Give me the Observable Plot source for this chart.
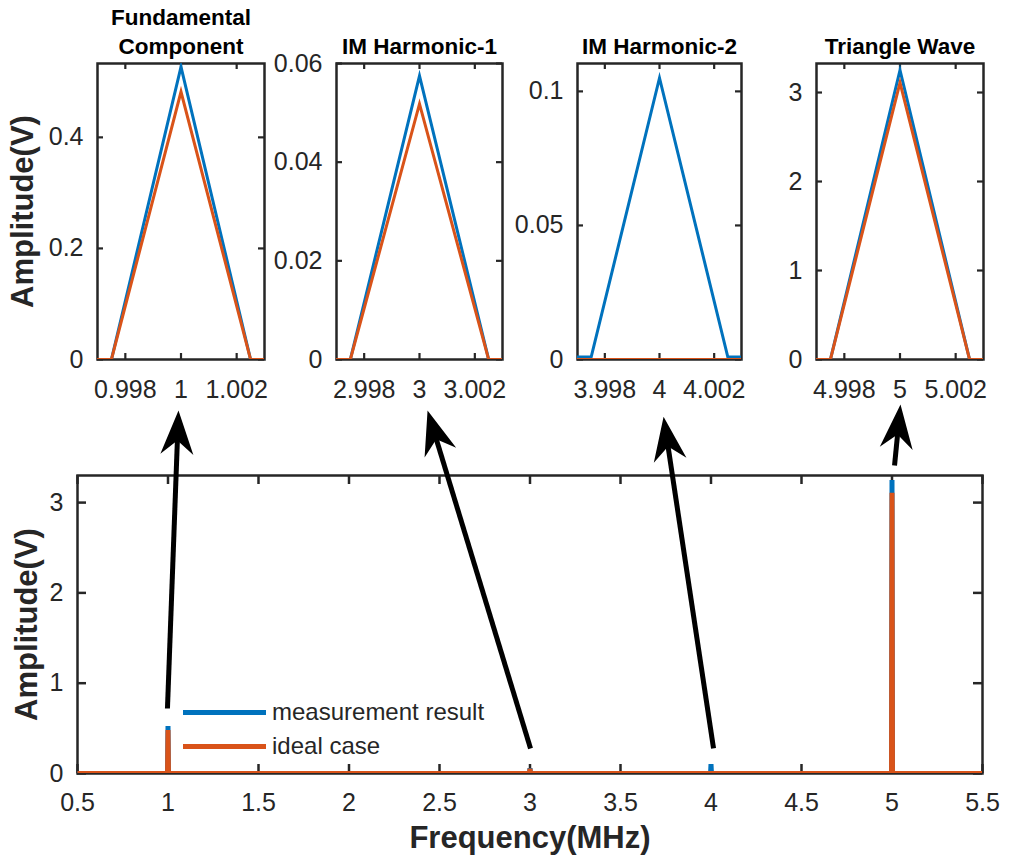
<!DOCTYPE html>
<html><head><meta charset="utf-8">
<script src="https://cdn.jsdelivr.net/npm/d3@7"></script>
<script src="https://cdn.jsdelivr.net/npm/@observablehq/plot@0.6"></script>
<style>
body{margin:0;background:#fff;}
#fig{position:relative;width:1017px;height:863px;font-family:"Liberation Sans",Arial,Helvetica,sans-serif;color:#262626;overflow:hidden;}
#fig > div{position:absolute;}
#fig svg{max-width:none;}
.leg-row{display:flex;align-items:center;height:34px;font-size:24px;white-space:nowrap;}
.leg-line{display:inline-block;width:83px;height:5px;margin-right:6px;}
</style></head><body><div id="fig"></div>
<script>
const BLUE = "#0072BD", RED = "#D95319", INK = "#262626";
const FONT = '"Liberation Sans", Arial, Helvetica, sans-serif';
const TICKFONT = 25;

// ---- main spectrum (bottom panel) ----
const specFreq     = [0.5, 0.9975, 1.0, 1.0025, 2.9975, 3.0, 3.0025, 3.9975, 4.0, 4.0025, 4.9975, 5.0, 5.0025, 5.5];
const specMeasured = [0,   0,      0.527, 0,    0,      0.0575, 0,    0.0009, 0.105, 0.0009, 0,    3.25, 0,     0];
const specIdeal    = [0,   0,      0.482, 0,    0,      0.0518, 0,    0,      0,     0,      0,    3.11, 0,     0];
const mainXTicks = [0.5, 1, 1.5, 2, 2.5, 3, 3.5, 4, 4.5, 5, 5.5];
const mainYTicks = [0, 1, 2, 3];
const seriesNames = ["measurement result", "ideal case"];

// ---- insets ----
const insetTitles   = ["Fundamental\nComponent", "IM Harmonic-1", "IM Harmonic-2", "Triangle Wave"];
const insetCenters  = [1, 3, 4, 5];
const insetOffsets  = [-0.005, -0.0025, 0, 0.0025, 0.005];
const insetMeasured = [[0, 0, 0.527, 0, 0], [0, 0, 0.0575, 0, 0], [0.0009, 0.0009, 0.105, 0.0009, 0.0009], [0, 0, 3.25, 0, 0]];
const insetIdeal    = [[0, 0, 0.482, 0, 0], [0, 0, 0.0518, 0, 0], [0, 0, 0, 0, 0], [0, 0, 3.11, 0, 0]];
const insetYMax     = [0.533, 0.06, 0.1104, 3.326];
const insetYTicks   = [[0, 0.2, 0.4], [0, 0.02, 0.04, 0.06], [0, 0.05, 0.1], [0, 1, 2, 3]];
const insetXTicks   = [[0.998, 1, 1.002], [2.998, 3, 3.002], [3.998, 4, 4.002], [4.998, 5, 5.002]];

// ---- arrows (annotation, in bottom-panel data units) ----
const arrowFromX = [0.997, 3.003, 4.014, 5.014];
const arrowFromY = [0.72, 0.277, 0.277, 3.41];
const arrowToX   = [1.058, 2.434, 3.738, 5.047];
const arrowToY   = [4.02, 4.02, 3.95, 4.085];

const fig = document.getElementById("fig");
const fmt = d3.format("~g");

function place(el, left, top, w) {
  const d = document.createElement("div");
  d.style.left = left + "px"; d.style.top = top + "px";
  if (w) d.style.width = w + "px";
  d.appendChild(el); fig.appendChild(d); return d;
}

// ---------- bottom panel ----------
const W = 1017, H = 863, mL = 77, mR = 35, mT = 475, mB = 90;
const xDom = [0.5, 5.5], yDom = [0, 3.3];
const sx = Plot.scale({x: {domain: xDom, range: [mL, W - mR]}});
const sy = Plot.scale({y: {domain: yDom, range: [H - mB, mT]}});
const innerW = W - mL - mR, innerH = H - mT - mB;

const specRowsM = specFreq.map((f, i) => ({f, v: specMeasured[i], s: seriesNames[0]}));
const specRowsI = specFreq.map((f, i) => ({f, v: specIdeal[i], s: seriesNames[1]}));

const arrows = arrowFromX.map((x, i) => {
  const x1p = sx.apply(x), y1p = sy.apply(arrowFromY[i]);
  const x2p = sx.apply(arrowToX[i]), y2p = sy.apply(arrowToY[i]);
  const dx = x2p - x1p, dy = y2p - y1p, L = Math.hypot(dx, dy);
  const back = 28;
  return {
    x1: x, y1: arrowFromY[i],
    x2: sx.invert(x2p - dx / L * back), y2: sy.invert(y2p - dy / L * back),
    tx: arrowToX[i], ty: arrowToY[i],
    angle: Math.atan2(dx, -dy) * 180 / Math.PI
  };
});
const arrowHead = {draw(ctx) { ctx.moveTo(0, 0); ctx.lineTo(16.5, 44); ctx.lineTo(0, 30); ctx.lineTo(-16.5, 44); ctx.closePath(); }};

const main = Plot.plot({
  width: W, height: H,
  marginLeft: mL, marginRight: mR, marginTop: mT, marginBottom: mB,
  style: {background: "transparent", fontFamily: FONT, fontSize: TICKFONT + "px", color: INK, overflow: "visible"},
  x: {domain: xDom}, y: {domain: yDom},
  marks: [
    Plot.frame({stroke: INK, strokeWidth: 2.5}),
    Plot.tickX(mainXTicks, {x: d => d, stroke: INK, strokeWidth: 2.5, insetTop: innerH - 9}),
    Plot.tickX(mainXTicks, {x: d => d, stroke: INK, strokeWidth: 2.5, insetBottom: innerH - 9}),
    Plot.tickY(mainYTicks, {y: d => d, stroke: INK, strokeWidth: 2.5, insetRight: innerW - 9}),
    Plot.tickY(mainYTicks, {y: d => d, stroke: INK, strokeWidth: 2.5, insetLeft: innerW - 9}),
    Plot.axisX({ticks: mainXTicks, tickFormat: fmt, tickSize: 0, tickPadding: 20, fontSize: TICKFONT, label: null}),
    Plot.axisY({ticks: mainYTicks, tickFormat: fmt, tickSize: 0, tickPadding: 14, fontSize: TICKFONT, label: null}),
    Plot.line(specRowsM, {x: "f", y: "v", stroke: BLUE, strokeWidth: 5, strokeLinejoin: "bevel", strokeLinecap: "butt", clip: true}),
    Plot.line(specRowsI, {x: "f", y: "v", stroke: RED, strokeWidth: 5, strokeLinejoin: "bevel", strokeLinecap: "butt", clip: true}),
    Plot.link(arrows, {x1: "x1", y1: "y1", x2: "x2", y2: "y2", stroke: "black", strokeWidth: 5}),
    Plot.dot(arrows, {x: "tx", y: "ty", symbol: arrowHead, rotate: "angle", fill: "black", stroke: "none", r: 1}),
    Plot.text(["Frequency(MHz)"], {frameAnchor: "bottom", dy: 65, textAnchor: "middle", lineAnchor: "middle", fontWeight: "bold", fontSize: 31, fill: INK}),
    Plot.text(["Amplitude(V)"], {frameAnchor: "left", dx: -50, rotate: -90, textAnchor: "middle", lineAnchor: "middle", fontWeight: "bold", fontSize: 31, fill: INK})
  ]
});
place(main, 0, 0, W);

// legend inside bottom panel
const leg = document.createElement("div");
seriesNames.forEach((name, i) => {
  const row = document.createElement("div");
  row.className = "leg-row";
  const ln = document.createElement("span");
  ln.className = "leg-line";
  ln.style.background = i === 0 ? BLUE : RED;
  row.appendChild(ln);
  row.appendChild(document.createTextNode(name));
  leg.appendChild(row);
});
place(leg, 183, 695);

// ---------- insets ----------
const frameLeft  = [97, 336, 577, 816];
const frameRight = [264, 502, 741, 983];
const iT = 63, iB = 359, iML = 97, iMR = 24, iH = 410;

insetCenters.forEach((c, k) => {
  const fw = frameRight[k] - frameLeft[k];
  const w = fw + iML + iMR;
  const ih = iB - iT;
  const rowsM = insetOffsets.map((o, j) => ({f: c + o, v: insetMeasured[k][j]}));
  const rowsI = insetOffsets.map((o, j) => ({f: c + o, v: insetIdeal[k][j]}));
  const marks = [
    Plot.frame({stroke: INK, strokeWidth: 2.5}),
    Plot.tickX(insetXTicks[k], {x: d => d, stroke: INK, strokeWidth: 2.2, insetTop: ih - 6}),
    Plot.tickX(insetXTicks[k], {x: d => d, stroke: INK, strokeWidth: 2.2, insetBottom: ih - 6}),
    Plot.tickY(insetYTicks[k], {y: d => d, stroke: INK, strokeWidth: 2.2, insetRight: fw - 6}),
    Plot.tickY(insetYTicks[k], {y: d => d, stroke: INK, strokeWidth: 2.2, insetLeft: fw - 6}),
    Plot.axisX({ticks: insetXTicks[k], tickFormat: fmt, tickSize: 0, tickPadding: 21, fontSize: TICKFONT, label: null}),
    Plot.axisY({ticks: insetYTicks[k], tickFormat: fmt, tickSize: 0, tickPadding: 14, fontSize: TICKFONT, label: null}),
    Plot.line(rowsM, {x: "f", y: "v", stroke: BLUE, strokeWidth: 3, strokeLinejoin: "miter", strokeMiterlimit: 10, clip: true}),
    Plot.line(rowsI, {x: "f", y: "v", stroke: RED, strokeWidth: 3, strokeLinejoin: "miter", strokeMiterlimit: 10, clip: true}),
    Plot.text([insetTitles[k]], {frameAnchor: "top", dy: -10, textAnchor: "middle", lineAnchor: "bottom", lineHeight: 1.25, fontWeight: "bold", fontSize: 22.5, fill: "black"})
  ];
  if (k === 0) marks.push(Plot.text(["Amplitude(V)"], {frameAnchor: "left", dx: -74, rotate: -90, textAnchor: "middle", lineAnchor: "middle", fontWeight: "bold", fontSize: 31, fill: INK}));
  const p = Plot.plot({
    width: w, height: iH,
    marginLeft: iML, marginRight: iMR, marginTop: iT, marginBottom: iH - iB,
    style: {background: "transparent", fontFamily: FONT, fontSize: TICKFONT + "px", color: INK, overflow: "visible"},
    x: {domain: [c - 0.003, c + 0.003]},
    y: {domain: [0, insetYMax[k]]},
    marks
  });
  place(p, frameLeft[k] - iML, 0, w);
});
</script></body></html>
